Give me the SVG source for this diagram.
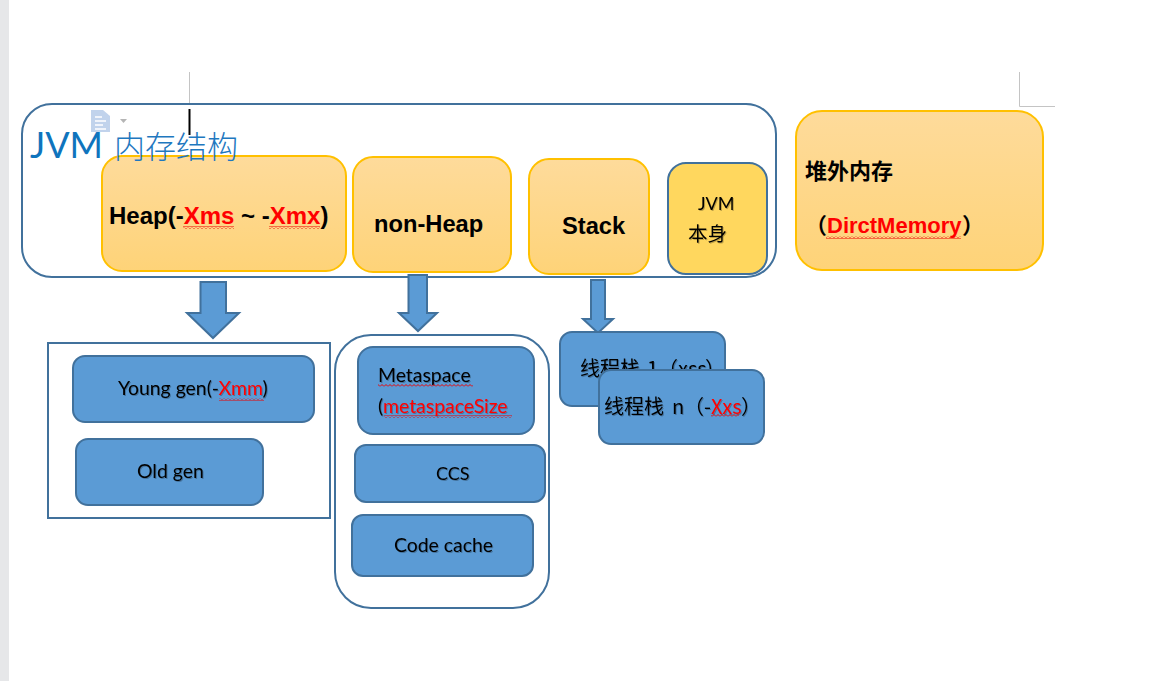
<svg xmlns="http://www.w3.org/2000/svg" width="1165" height="681" viewBox="0 0 1165 681">
<style>
.blue{fill:#5b9bd5;stroke:#41719c;stroke-width:2}
.outline{fill:#fff;stroke:#41719c;stroke-width:2}
.orange{fill:url(#og);stroke:#ffc000;stroke-width:2}
.crop{fill:none;stroke:#c4c4c4;stroke-width:1}
.b{font-family:"Liberation Sans","Noto Sans CJK SC",sans-serif;font-weight:700;fill:#000}
.c{font-family:Lato,"Noto Sans CJK SC",sans-serif;fill:#000;font-size:19.4px;filter:url(#sh)}
.z{font-family:"Noto Sans CJK SC",sans-serif;fill:#000;font-size:20px;filter:url(#sh)}
.r{fill:#f00}
.sq{fill:url(#wave)}
</style>
<defs>
<linearGradient id="og" x1="0" y1="0" x2="0" y2="1"><stop offset="0" stop-color="#fedb9b"/><stop offset="1" stop-color="#fed378"/></linearGradient>
<pattern id="wave" width="4" height="3" patternUnits="userSpaceOnUse"><path d="M0 2.500L2 .5L4 2.500" fill="none" stroke="#e00" stroke-width="1"/></pattern>
<filter id="sh" x="-5%" y="-20%" width="110%" height="140%"><feDropShadow dx="1" dy="1" stdDeviation=".6" flood-color="#000" flood-opacity=".25"/></filter>
</defs>
<rect width="1165" height="681" fill="#fff"/>
<rect width="9" height="681" fill="#e6e7e9"/>
<g id="page-marks">
<path class="crop" d="M189.500 72V106.500H154"/>
<path class="crop" d="M1019.500 72V106.500H1055"/>
</g>
<g id="jvm">
<rect class="outline" x="22" y="104" width="754" height="173" rx="30"/>
<path d="M91 110h12l7 6v16H91z" fill="#c1d3ec"/><path d="M95 117h7M95 121h11M95 125h8M95 129h11" stroke="#fff" stroke-width="1.500"/>
<path d="M120 119h7l-3.500 4z" fill="#b5b5b5"/>
</g>
<g id="connectors">
<path class="blue" d="M200.500 282H226V313H239L213 338L187 313H200.500z"/>
<path class="blue" d="M408.500 275H427V313H437L418 331L399 313H408.500z"/>
<path class="blue" d="M591 280H605V319H613L598 333L583 319H591z"/>
</g>
<g id="heap">
<rect class="orange" x="102" y="156" width="244" height="115" rx="20"/>
<text class="b" x="109" y="224" font-size="24">Heap(-<tspan class="r">Xms</tspan> ~ -<tspan class="r">Xmx</tspan>)</text>
<rect class="sq" x="183" y="226" width="51" height="3"/><rect class="sq" x="269" y="226" width="51" height="3"/>
</g>
<g id="title">
<path d="M189.500 109V135" stroke="#000" stroke-width="2" fill="none"/>
<text x="30" y="158" font-family="Lato,sans-serif" font-size="36" fill="#0f74bd">JVM</text>
<text x="114" y="158" font-family="'Noto Sans CJK SC',sans-serif" font-weight="300" font-size="31" fill="#1f78bf">内存结构</text>
</g>
<g id="non-heap">
<rect class="orange" x="353" y="157" width="158" height="115" rx="20"/>
<text class="b" x="374" y="232" font-size="23.700">non-Heap</text>
</g>
<g id="stack">
<rect class="orange" x="529" y="159" width="120" height="115" rx="20"/>
<text class="b" x="562" y="234" font-size="23.700">Stack</text>
</g>
<g id="jvm-self">
<rect x="668" y="163" width="99" height="111" rx="18" fill="#ffd75e" stroke="#41719c" stroke-width="2"/>
<text class="c" x="698" y="210" style="font-size:18px">JVM</text>
<text class="z" x="688" y="241" style="font-size:19.500px">本身</text>
</g>
<g id="direct-memory">
<rect class="orange" x="796" y="111" width="247" height="159" rx="26"/>
<text class="b" x="805" y="179" font-size="22">堆外内存</text>
<text class="b" x="805" y="233" font-size="22">（</text>
<text class="b r" x="827" y="233" font-size="22">DirctMemory</text>
<text class="b" x="962" y="233" font-size="22">）</text>
<rect class="sq" x="826" y="236" width="135" height="3"/>
</g>
<g id="young-old">
<rect x="48" y="343" width="282" height="175" fill="#fff" stroke="#41719c" stroke-width="2"/>
<rect class="blue" x="73" y="356" width="241" height="66" rx="12"/>
<text class="c" x="118" y="395">Young gen(-<tspan class="r">Xmm</tspan>)</text>
<rect class="sq" x="219" y="398" width="45" height="3"/>
<rect class="blue" x="76" y="439" width="187" height="66" rx="12"/>
<text class="c" x="137" y="478">Old gen</text>
</g>
<g id="metaspace-group">
<rect class="outline" x="335" y="335" width="214" height="273" rx="36"/>
<rect class="blue" x="358" y="347" width="176" height="87" rx="15"/>
<text class="c" x="378" y="382">Metaspace</text>
<rect class="sq" x="378" y="384" width="95" height="3"/>
<text class="c" x="378" y="413">(<tspan class="r">metaspaceSize</tspan></text>
<rect class="sq" x="384" y="415" width="128" height="3"/>
<rect class="blue" x="355" y="445" width="190" height="57" rx="11"/>
<text class="c" x="436" y="480" style="font-size:18px">CCS</text>
<rect class="blue" x="352" y="515" width="181" height="61" rx="11"/>
<text class="c" x="394" y="552">Code cache</text>
</g>
<g id="thread-stack-1">
<rect class="blue" x="560" y="332" width="165" height="74" rx="12"/>
<text class="z" x="580" y="376">线程栈<tspan x="647">1</tspan><tspan x="658">（</tspan><tspan x="678">xss</tspan><tspan x="705">）</tspan></text>
</g>
<g id="thread-stack-n">
<rect class="blue" x="599" y="370" width="165" height="74" rx="12"/>
<text class="z" x="604" y="414">线程栈<tspan x="672">n</tspan><tspan x="684">（</tspan><tspan x="704">-</tspan><tspan class="r" x="711">Xxs</tspan><tspan x="741">）</tspan></text>
<rect class="sq" x="711" y="414" width="28" height="3"/>
</g>
</svg>
